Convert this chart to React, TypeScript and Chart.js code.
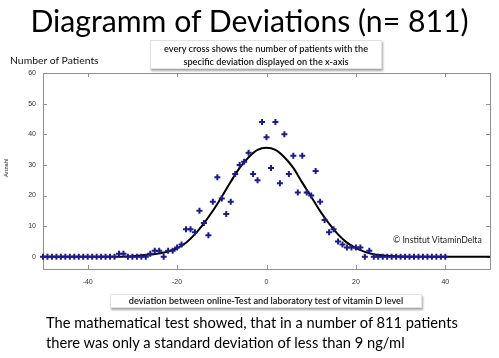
import React, { useEffect, useRef } from "react";
import { Chart, registerables } from "chart.js";

Chart.register(...registerables);

const deviations = [
  -50, -49, -48, -47, -46, -45, -44, -43, -42, -41, -40, -39, -38, -37, -36, -35, -34,
  -33, -32, -31, -30, -29, -28, -27, -26, -25, -24, -23, -22, -21, -20, -19,
  -18, -17, -16, -15, -14, -13, -12, -11, -10, -9, -8, -7, -6, -5, -4, -3, -2, -1,
  0, 1, 2, 3, 4, 5, 6, 7, 8, 9, 10, 11, 12, 13, 14, 15, 16, 17, 18, 19, 20, 21, 22, 23,
  24, 25, 26, 27, 28, 29, 30, 31, 32, 33, 34, 35, 36, 37, 38, 39, 40,
];
const patients = [
  0, 0, 0, 0, 0, 0, 0, 0, 0, 0, 0, 0, 0, 0, 0, 0, 0,
  1, 1, 0, 0, 0, 0, 0, 1, 2, 2, 0, 2, 2, 3, 4,
  9, 9, 8, 15, 11, 7, 18, 26, 19, 14, 18, 27, 30, 31, 34, 27, 25, 44,
  39, 29, 44, 24, 40, 27, 33, 21, 33, 21, 20, 28, 18, 12, 8, 9, 5, 4, 3, 3, 3, 3, 0, 2,
  0, 0, 0, 0, 0, 0, 0, 0, 0, 0, 0, 0, 0, 0, 0, 0, 0,
];

const curveX = [-50, -35, -30, -26, -22, -20, -18, -16, -14, -12, -10, -8, -6, -4, -2, 0, 2, 4, 6, 8, 10, 12, 14, 16, 18, 20, 22, 24, 27, 30, 35, 50];
const curveY = [0, 0, 0.2, 0.7, 1.7, 2.8, 4.6, 7.4, 10.9, 15.0, 19.6, 24.5, 29.0, 32.5, 34.9, 35.6, 34.9, 32.5, 29.0, 24.2, 19.6, 14.9, 10.8, 7.3, 4.6, 2.8, 1.6, 0.8, 0.3, 0.1, 0, 0];

const xTicks = [-40, -20, 0, 20, 40];
const yTicks = [0, 10, 20, 30, 40, 50, 60];

const framePlugin = {
  id: "frame",
  beforeDatasetsDraw(chart: any) {
    const { ctx, chartArea: a, scales } = chart;
    ctx.save();
    ctx.strokeStyle = "#8f8f8f";
    ctx.lineWidth = 1;
    ctx.strokeRect(a.left + 0.5, a.top + 0.5, a.right - a.left, a.bottom - a.top);
    ctx.beginPath();
    xTicks.forEach((v) => {
      const px = Math.round(scales.x.getPixelForValue(v)) + 0.5;
      ctx.moveTo(px, a.bottom);
      ctx.lineTo(px, a.bottom - 4);
      ctx.moveTo(px, a.top);
      ctx.lineTo(px, a.top + 4);
    });
    yTicks.forEach((v) => {
      const py = Math.round(scales.y.getPixelForValue(v)) + 0.5;
      ctx.moveTo(a.left, py);
      ctx.lineTo(a.left + 4, py);
      ctx.moveTo(a.right, py);
      ctx.lineTo(a.right - 4, py);
    });
    ctx.stroke();
    ctx.restore();
  },
};

const sans = "Lato, 'Open Sans', sans-serif";

export default function App() {
  const ref = useRef<HTMLCanvasElement | null>(null);

  useEffect(() => {
    if (!ref.current) return;
    const chart = new Chart(ref.current, {
      type: "scatter",
      data: {
        datasets: [
          {
            type: "line",
            label: "fit",
            data: curveX.map((x, i) => ({ x, y: curveY[i] })),
            borderColor: "#000000",
            borderWidth: 2,
            pointRadius: 0,
            cubicInterpolationMode: "monotone",
            fill: false,
            order: 2,
          } as any,
          {
            label: "patients",
            data: deviations.map((x, i) => ({ x, y: patients[i] })),
            pointStyle: "cross",
            pointRadius: 3,
            borderWidth: 2,
            borderColor: "#1c1c8c",
            backgroundColor: "#1c1c8c",
            clip: false,
            order: 1,
          } as any,
        ],
      },
      options: {
        animation: false,
        responsive: false,
        devicePixelRatio: 1,
        layout: { padding: { left: 0, right: 9, top: 73, bottom: 69 } },
        plugins: { legend: { display: false }, tooltip: { enabled: false }, title: { display: false } },
        scales: {
          x: {
            type: "linear",
            min: -50,
            max: 50,
            afterBuildTicks: (s: any) => {
              s.ticks = xTicks.map((v) => ({ value: v }));
            },
            afterFit: (s: any) => {
              s.height = 20;
            },
            grid: { display: false, drawTicks: false, tickLength: 0 },
            border: { display: false },
            ticks: {
              color: "#333",
              font: { size: 7, family: "'Liberation Sans', Arial, sans-serif" },
              padding: 9,
              maxRotation: 0,
              autoSkip: false,
            },
          },
          y: {
            type: "linear",
            min: -4,
            max: 60,
            afterBuildTicks: (s: any) => {
              s.ticks = yTicks.map((v) => ({ value: v }));
            },
            afterFit: (s: any) => {
              s.width = 43;
            },
            grid: { display: false, drawTicks: false, tickLength: 0 },
            border: { display: false },
            ticks: {
              color: "#333",
              font: { size: 7, family: "'Liberation Sans', Arial, sans-serif" },
              padding: 7,
              autoSkip: false,
            },
          },
        },
      },
      plugins: [framePlugin],
    });
    return () => chart.destroy();
  }, []);

  const box: React.CSSProperties = {
    position: "absolute",
    background: "#fff",
    border: "1px solid #e2e2e2",
    boxShadow: "1px 2px 2px rgba(0,0,0,0.35)",
    textAlign: "center",
    color: "#111",
    fontFamily: sans,
    fontWeight: 600,
    boxSizing: "border-box",
  };

  return (
    <div style={{ position: "absolute", left: 0, top: 0, width: 499, height: 358, background: "#fff", overflow: "hidden" }}>
      <canvas ref={ref} width={499} height={358} style={{ position: "absolute", left: 0, top: 0, width: 499, height: 358 }} />
      <div style={{ position: "absolute", left: 0, top: 0, width: 499, height: 40, lineHeight: "40px", textAlign: "center", fontFamily: sans, fontSize: 30.2, color: "#000", whiteSpace: "nowrap" }}>
        Diagramm of Deviations (n= 811)
      </div>
      <div style={{ position: "absolute", left: 10, top: 53, fontFamily: sans, fontSize: 10.4, lineHeight: "14px", color: "#111", whiteSpace: "nowrap" }}>
        Number of Patients
      </div>
      <div style={{ ...box, left: 150, top: 40, width: 232, height: 29, fontSize: 9.2, lineHeight: "13px", paddingTop: 1 }}>
        every cross shows the number of patients with the
        <br />
        specific deviation displayed on the x-axis
      </div>
      <div style={{ position: "absolute", left: 6, top: 168, transform: "translate(-50%, -50%) rotate(-90deg)", fontFamily: "'Liberation Sans', Arial, sans-serif", fontSize: 6, color: "#222", whiteSpace: "nowrap" }}>
        Anzahl
      </div>
      <div style={{ position: "absolute", left: 393, top: 234, fontFamily: sans, fontSize: 8.7, lineHeight: "12px", color: "#222", whiteSpace: "nowrap" }}>
        © Institut VitaminDelta
      </div>
      <div style={{ ...box, left: 110, top: 294, width: 312, height: 14, fontSize: 9.2, lineHeight: "12px" }}>
        deviation between online-Test and laboratory test of vitamin D level
      </div>
      <div style={{ position: "absolute", left: 46, top: 312, fontFamily: sans, fontSize: 14.7, lineHeight: "20px", color: "#000", whiteSpace: "nowrap" }}>
        The mathematical test showed, that in a number of 811 patients
        <br />
        there was only a standard deviation of less than 9 ng/ml
      </div>
    </div>
  );
}
